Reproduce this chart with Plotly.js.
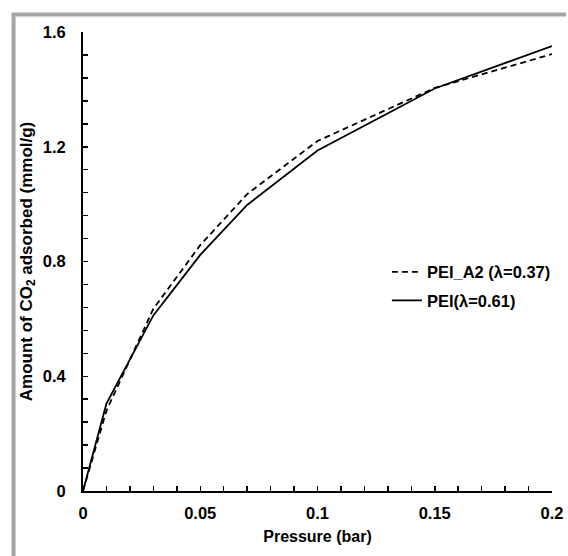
<!DOCTYPE html>
<html>
<head>
<meta charset="utf-8">
<script src="https://cdn.plot.ly/plotly-3.0.1.min.js"></script>
<style>
html,body{margin:0;padding:0;background:#fff;}
#chart{width:568px;height:556px;}
</style>
</head>
<body>
<div id="chart"></div>
<script>
const pressure = [0, 0.01, 0.03, 0.05, 0.07, 0.1, 0.15, 0.2];
const peiA2 = [0, 0.28, 0.635, 0.857, 1.035, 1.22, 1.405, 1.523];
const pei = [0, 0.305, 0.612, 0.823, 0.997, 1.187, 1.403, 1.551];
const seriesNames = ['PEI_A2 (λ=0.37)', 'PEI(λ=0.61)'];
const xTitle = 'Pressure (bar)';
const yTitle = 'Amount of CO<sub>2</sub> adsorbed (mmol/g)';

const font = {family: '"Liberation Sans", Arial, sans-serif', color: '#000'};
const bold = (s) => Object.assign({}, font, {size: s, weight: 'bold'});

const traces = [
  {x: pressure, y: peiA2, name: seriesNames[0], mode: 'lines', legendgroup: 'a',
   line: {color: '#000', width: 1.8, dash: '6px,4px'}},
  {x: pressure, y: pei, name: seriesNames[1], mode: 'lines', legendgroup: 'b',
   line: {color: '#000', width: 1.8}}
];

const layout = {
  width: 568, height: 556,
  margin: {l: 83, r: 12, t: 32, b: 65},
  paper_bgcolor: '#fff', plot_bgcolor: '#fff',
  font: font,
  showlegend: true,
  legend: {
    x: 0.648, y: 0.515, xanchor: 'left', yanchor: 'top',
    font: bold(16.5),
    bgcolor: 'rgba(0,0,0,0)', traceorder: 'grouped', tracegroupgap: 4
  },
  xaxis: {
    range: [0, 0.2], dtick: 0.05, tick0: 0,
    showgrid: false, zeroline: false,
    showline: true, linecolor: '#000', linewidth: 2,
    ticks: 'inside', ticklen: 5, tickwidth: 1.5, tickcolor: '#000',
    minor: {dtick: 0.01, ticks: 'inside', ticklen: 5, tickwidth: 1.5, tickcolor: '#000', showgrid: false},
    tickfont: bold(16.5), ticklabelstandoff: 6,
    title: {text: xTitle, font: bold(16), standoff: 10}
  },
  yaxis: {
    range: [0, 1.6], dtick: 0.4, tick0: 0,
    showgrid: false, zeroline: false,
    showline: true, linecolor: '#000', linewidth: 2,
    ticks: 'inside', ticklen: 5, tickwidth: 1.5, tickcolor: '#000',
    minor: {dtick: 0.08, ticks: 'inside', ticklen: 5, tickwidth: 1.5, tickcolor: '#000', showgrid: false},
    tickfont: bold(16.5), ticklabelstandoff: 12,
    title: {text: yTitle, font: bold(17), standoff: 6}
  },
  shapes: [
    {type: 'line', xref: 'paper', yref: 'paper', x0: -0.148, x1: -0.148, y0: 1.04, y1: -0.15,
     line: {color: '#a6a6a6', width: 4}},
    {type: 'line', xref: 'paper', yref: 'paper', x0: -0.152, x1: 1.03, y0: 1.038, y1: 1.038,
     line: {color: '#a6a6a6', width: 4}}
  ]
};

Plotly.newPlot('chart', traces, layout, {displayModeBar: false, staticPlot: true});
</script>
</body>
</html>
